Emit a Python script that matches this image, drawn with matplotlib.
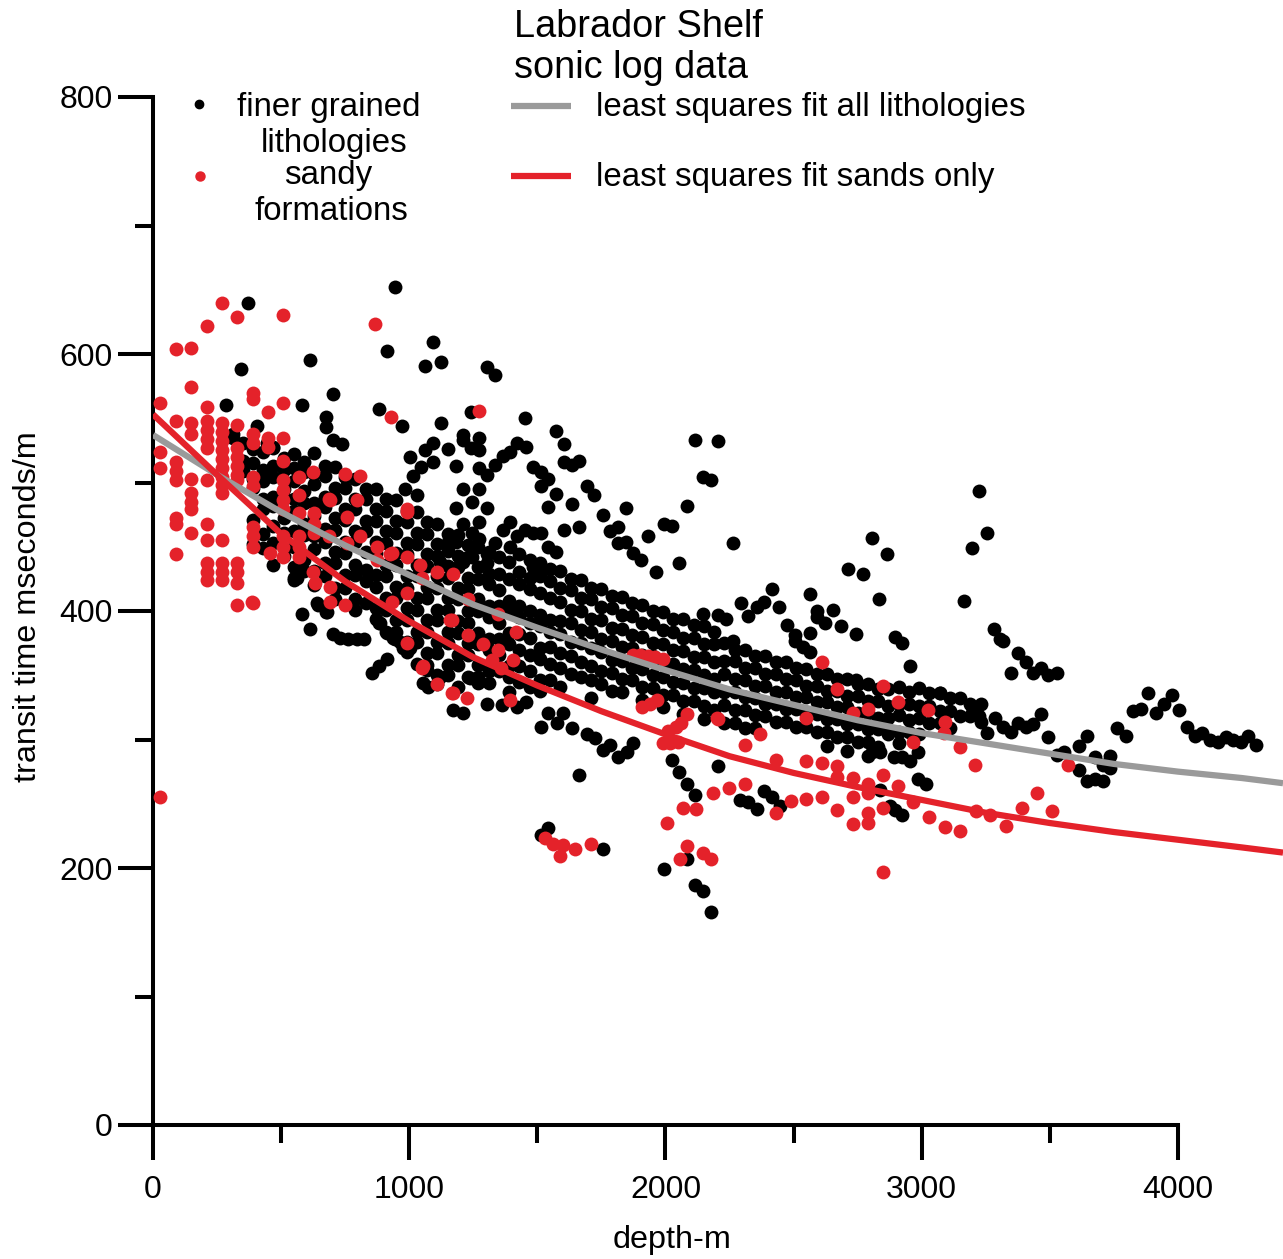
import numpy as np
import matplotlib.pyplot as plt

plt.rcParams['font.family'] = ['Liberation Sans', 'DejaVu Sans']

# least squares fit curves (depth m, transit time)
fit_depth = [0, 250, 500, 750, 1000, 1250, 1500, 1750, 2000, 2250, 2500,
             2750, 3000, 3250, 3500, 3750, 4000, 4250, 4410]
fit_all = [537, 506, 477, 451, 428, 405, 387, 370, 354, 339, 327,
           315, 305, 297, 289, 281, 275, 270, 266]
fit_sand = [553, 506, 460, 423, 392, 364, 342, 322, 304, 287, 274,
            263, 253, 243, 235, 228, 222, 216, 212]

# finer grained lithologies: isolated points (depth, time)
fine_points = [
    (371, 640), (944, 652), (913, 602), (613, 595), (343, 588), (702, 569), (581, 560),
    (285, 560), (882, 557), (675, 551), (675, 543), (972, 544), (406, 544), (312, 538),
    (312, 535), (702, 533), (737, 530), (1003, 520), (445, 531), (468, 528),
    (1093, 609), (1061, 591), (1124, 594), (1303, 590), (1335, 584), (1241, 555),
    (1452, 550), (1124, 546), (1573, 540), (1604, 530), (2115, 533), (1093, 531),
    (1061, 525), (1210, 537), (1210, 533), (1272, 535), (1152, 526), (1241, 527),
    (1272, 525), (1420, 531), (1456, 528), (1393, 524), (1366, 521), (1335, 514),
    (1093, 516), (1182, 513), (1604, 516), (1635, 514), (1662, 517), (1272, 511),
    (1303, 506), (1483, 512), (1514, 508), (1541, 503), (1514, 497), (1573, 491),
    (1694, 497), (1721, 490), (1210, 495), (1272, 495), (1245, 485), (1182, 480),
    (1303, 480), (1541, 481), (1635, 483), (1756, 475), (1846, 480), (2084, 482),
    (1210, 468), (1272, 469), (1245, 461), (1272, 456), (1393, 469), (1366, 463),
    (1335, 453), (1452, 463), (1483, 461), (1514, 461), (1420, 458), (1604, 463),
    (1662, 465), (1783, 462), (1815, 465), (1994, 468), (2025, 466), (1932, 458),
    (1815, 453), (1846, 454), (1393, 450), (1541, 450), (1573, 446), (1873, 445),
    (1904, 440), (2053, 437), (1963, 430), (1152, 454), (1182, 454), (1152, 447),
    (1303, 444), (1303, 437), (1245, 442), (1210, 438), (1120, 438), (1483, 434),
    (1514, 430), (1015, 505), (985, 495), (1030, 490), (1045, 512),
    (2205, 532), (2146, 504), (2177, 502), (2263, 453), (3223, 493), (3254, 461),
    (3196, 449), (2806, 457), (2864, 444), (2712, 433), (2771, 429), (2833, 409),
    (3165, 408), (2415, 417), (2294, 406), (2357, 403), (2384, 407), (2322, 396),
    (2443, 403), (2564, 413), (2591, 400), (2591, 395), (2622, 391), (2653, 401),
    (2685, 388), (2743, 382), (2474, 389), (2505, 381), (2505, 377), (2537, 372),
    (2564, 368), (2564, 383), (2146, 398), (2205, 397), (2236, 394), (2263, 377),
    (2896, 380), (2923, 375), (3282, 386), (3305, 378), (2954, 357), (2743, 346),
    (3071, 336),
    (3318, 377), (3376, 367), (3407, 360), (3348, 352), (3434, 352), (3465, 356),
    (3493, 350), (3528, 352), (3318, 310), (3348, 306), (3376, 313), (3407, 310),
    (3434, 312), (3465, 320), (3493, 302), (3528, 288), (3555, 290), (3614, 295),
    (3645, 303), (3614, 276), (3645, 268), (3676, 269), (3707, 268), (3676, 286),
    (3707, 280), (3735, 287), (3735, 278), (3762, 309), (3797, 303), (3824, 322),
    (3856, 324), (3883, 336), (3914, 321), (3945, 328), (3977, 335), (4004, 323),
    (4035, 310), (4066, 303), (4094, 305), (4125, 300), (4156, 298), (4187, 302),
    (4215, 300), (4246, 298), (4273, 303), (4304, 296),
    (2146, 182), (2177, 166), (2205, 279), (2291, 253), (2322, 251), (2357, 246),
    (2384, 260), (2415, 255), (2447, 248), (2837, 261), (2876, 248), (2896, 245),
    (2923, 241), (2985, 269), (3016, 265), (2985, 290), (2892, 286), (2923, 286),
    (2954, 283), (2806, 290), (2837, 290), (3254, 305), (3196, 325), (3223, 318),
    (3286, 317),
    (1541, 231), (1514, 226), (1756, 215), (1662, 272), (1994, 199), (2115, 187),
    (2084, 207), (1171, 323), (1210, 321), (1303, 328), (1362, 327), (1420, 325),
    (1456, 329), (1514, 310), (1577, 313), (1635, 309), (1541, 321), (1600, 321),
    (1694, 304), (1725, 301), (1756, 292), (1783, 296), (1815, 286), (1850, 290),
    (1873, 297), (2025, 284), (2053, 275), (2084, 265), (2115, 257), (1069, 354),
    (1120, 349), (1054, 344), (1073, 341), (1237, 348), (1268, 344),
    (550, 424), (581, 398), (613, 386), (644, 405), (675, 399), (702, 382),
    (730, 379), (761, 378), (796, 378), (823, 378), (882, 391), (913, 383),
    (944, 378), (976, 371), (1003, 371), (913, 363), (882, 357), (855, 352),
    (562, 426), (640, 406), (679, 399), (886, 391), (937, 379), (964, 376),
]

# finer grained lithologies: the dense band, as depth columns of times
fine_band = [
    (350, [531, 517, 509]),
    (390, [526, 515, 503, 496, 471, 452]),
    (430, [524, 510, 501, 487, 479, 460, 449]),
    (470, [527, 513, 504, 489, 482, 466, 453, 436]),
    (510, [519, 510, 495, 488, 472, 461, 443]),
    (550, [522, 511, 501, 487, 478, 462, 450, 434, 426]),
    (590, [516, 508, 493, 484, 468, 459, 440, 431]),
    (630, [523, 507, 499, 484, 474, 458, 448, 431, 420]),
    (670, [513, 505, 489, 481, 464, 454, 437, 427]),
    (710, [512, 496, 488, 472, 463, 446, 437, 418, 409]),
    (750, [504, 496, 479, 471, 454, 445, 428, 418]),
    (790, [503, 487, 479, 462, 454, 436, 428, 409, 401]),
    (830, [495, 487, 470, 462, 446, 432, 423, 406]),
    (870, [495, 479, 470, 454, 445, 428, 419, 402, 394]),
    (910, [487, 478, 462, 453, 436, 427, 410, 401, 384]),
    (950, [486, 470, 461, 445, 436, 419, 410, 393, 384]),
    (990, [478, 469, 453, 444, 427, 418, 402, 393, 376, 368]),
    (1030, [477, 461, 452, 436, 427, 410, 401, 384, 376, 359]),
    (1070, [469, 460, 444, 435, 419, 410, 393, 384, 367, 358]),
    (1110, [468, 452, 443, 427, 418, 401, 393, 376, 367, 350, 343]),
    (1150, [460, 451, 435, 426, 410, 401, 384, 375, 358, 350]),
    (1190, [459, 443, 434, 418, 409, 392, 383, 366, 358, 341]),
    (1230, [451, 442, 426, 417, 400, 391, 375, 366, 349]),
    (1270, [450, 434, 425, 409, 400, 383, 374, 358, 349]),
    (1310, [446, 429, 421, 404, 395, 378, 370, 353, 344]),
    (1350, [442, 429, 416, 404, 391, 378, 366, 353]),
    (1390, [438, 425, 408, 399, 383, 374, 357, 349, 337]),
    (1430, [444, 430, 421, 404, 395, 382, 370, 357, 345]),
    (1470, [440, 426, 417, 400, 391, 379, 366, 353, 341]),
    (1510, [437, 427, 414, 397, 388, 371, 363, 346, 338]),
    (1550, [433, 423, 410, 393, 384, 372, 359, 346]),
    (1590, [431, 418, 407, 392, 382, 367, 356, 341]),
    (1630, [425, 416, 401, 391, 376, 365, 351]),
    (1670, [424, 410, 400, 385, 375, 360, 349]),
    (1710, [418, 409, 394, 384, 371, 357, 346, 332]),
    (1750, [417, 403, 393, 378, 368, 353, 343]),
    (1790, [412, 402, 387, 377, 362, 352, 338]),
    (1830, [411, 397, 386, 372, 361, 347, 337]),
    (1870, [406, 396, 381, 371, 356, 346]),
    (1910, [405, 391, 380, 366, 355, 341, 331]),
    (1950, [400, 390, 375, 365, 350, 340]),
    (1990, [399, 385, 374, 360, 349, 335, 325]),
    (2030, [394, 384, 370, 359, 345, 335]),
    (2070, [394, 379, 369, 355, 344, 330, 320]),
    (2110, [389, 379, 364, 354, 340, 330]),
    (2150, [388, 374, 364, 350, 340, 326, 316]),
    (2190, [384, 374, 360, 347, 337, 323]),
    (2230, [375, 361, 351, 337, 327, 313]),
    (2270, [370, 361, 347, 337, 323, 313]),
    (2310, [370, 356, 346, 333, 323, 309]),
    (2350, [365, 356, 342, 332, 319, 309]),
    (2390, [365, 351, 342, 328, 318]),
    (2430, [360, 351, 337, 328, 314]),
    (2470, [360, 347, 337, 324, 314]),
    (2510, [356, 346, 333, 324, 310]),
    (2550, [355, 342, 333, 320, 310]),
    (2590, [351, 342, 329, 320, 306]),
    (2630, [351, 338, 329, 316, 306, 295]),
    (2670, [347, 338, 325, 316, 302]),
    (2710, [347, 334, 325, 312, 302, 291]),
    (2750, [343, 334, 321, 312, 298]),
    (2790, [343, 330, 321, 308, 298, 287]),
    (2830, [339, 330, 317, 308, 294]),
    (2870, [339, 326, 317, 304]),
    (2910, [341, 328, 319, 306, 297]),
    (2950, [337, 328, 315, 306]),
    (2990, [340, 326, 317, 304]),
    (3030, [336, 326, 313]),
    (3070, [336, 322, 313]),
    (3110, [332, 322, 309]),
    (3150, [332, 318]),
    (3190, [328, 318]),
    (3230, [328, 314]),
]

# sandy formations (depth, time)
sand_points = [
    (27, 562), (27, 524), (27, 511), (27, 255),
    (90, 604), (90, 548), (90, 516), (90, 509), (90, 502), (90, 472), (90, 468), (90, 444),
    (148, 605), (148, 574), (148, 546), (148, 538), (148, 503), (148, 492), (148, 485),
    (148, 479), (148, 461),
    (210, 622), (210, 559), (210, 548), (210, 541), (210, 534), (210, 527), (210, 502),
    (210, 468), (210, 455), (210, 437), (210, 430), (210, 424),
    (269, 640), (270, 546), (270, 539), (270, 532), (270, 525), (270, 518), (270, 511),
    (270, 504), (270, 498), (270, 492), (270, 455), (270, 437), (270, 430), (270, 424),
    (328, 629), (328, 545), (328, 527), (328, 520), (328, 513), (328, 506), (328, 502),
    (328, 437), (328, 430), (328, 422), (328, 405),
    (390, 570), (390, 565), (390, 538), (390, 531), (390, 504), (390, 497), (390, 465),
    (390, 458), (390, 450), (390, 406), (386, 407),
    (449, 555), (449, 535), (449, 528), (456, 445),
    (507, 630), (507, 562), (507, 535), (507, 517), (507, 502), (507, 494), (507, 486),
    (507, 479), (507, 458), (507, 450), (507, 442),
    (570, 504), (570, 490), (570, 476), (570, 458), (570, 450), (570, 442),
    (624, 508), (628, 476), (628, 468), (628, 461), (624, 430), (632, 422),
    (687, 487), (687, 458), (690, 486), (690, 419), (690, 407),
    (749, 507), (757, 473), (757, 453), (749, 405),
    (808, 505), (808, 458), (796, 486),
    (866, 623), (874, 450), (874, 440),
    (929, 551), (932, 445), (925, 444), (932, 407),
    (991, 479), (991, 442), (991, 477), (991, 414), (991, 375),
    (1042, 436), (1050, 426), (1108, 430), (1171, 429), (1159, 393),
    (1054, 357), (1050, 356), (1108, 343), (1167, 336), (1167, 393), (1171, 336),
    (1225, 332), (1229, 409), (1229, 381), (1288, 374), (1346, 370), (1346, 398),
    (1323, 362), (1359, 356), (1405, 362), (1417, 384), (1393, 331), (1272, 556),
    (1873, 366), (1900, 366), (1932, 365), (1960, 364), (1990, 363),
    (1908, 325), (1940, 328), (1967, 331), (2084, 320), (2010, 307), (2040, 310),
    (2060, 313), (1990, 297), (2049, 298), (2018, 297), (2201, 317),
    (2006, 235), (2068, 247), (2119, 246), (2084, 217), (2057, 207), (2146, 212),
    (2177, 207),
    (1530, 223), (1561, 219), (1600, 218), (1647, 215), (1709, 219), (1588, 209),
    (2611, 360), (2669, 339), (2849, 342), (2907, 329), (2790, 324), (2732, 321),
    (3024, 323), (3091, 314), (2548, 317), (2369, 304), (2310, 296), (2966, 298),
    (3149, 294), (3208, 280), (2205, 316), (3088, 305),
    (2431, 284), (2548, 283), (2611, 282), (2669, 279), (2669, 271), (2732, 270),
    (2790, 265), (2790, 258), (2849, 272), (2907, 264), (2185, 258), (2248, 262),
    (2310, 265), (2490, 252), (2548, 254), (2611, 255), (2732, 255), (2431, 243),
    (2669, 245), (2732, 234), (2790, 235), (2790, 243), (2849, 247), (2966, 251),
    (3028, 240), (3091, 232), (3149, 229), (3212, 244), (3266, 241), (2849, 197),
    (3571, 280), (3450, 258), (3391, 247), (3508, 244), (3329, 233),
]

fine_depth = [d for d, _ in fine_points]
fine_time = [t for _, t in fine_points]
for d, times in fine_band:
    fine_depth += [d] * len(times)
    fine_time += times
sand_depth = [d for d, _ in sand_points]
sand_time = [t for _, t in sand_points]

BLACK = '#000000'
RED = '#e4222a'
GREY = '#9a9a9a'

W, H = 1283, 1259
fig = plt.figure(figsize=(W / 100, H / 100), dpi=100)
ax = fig.add_axes([153 / W, 134 / H, 1130 / W, 1028 / H])

ax.scatter(fine_depth, fine_time, s=100, c=BLACK, linewidths=0, zorder=2)
ax.scatter(sand_depth, sand_time, s=100, c=RED, linewidths=0, zorder=3)
ax.plot(fit_depth, fit_all, color=GREY, lw=4.5, solid_capstyle='butt', zorder=4)
ax.plot(fit_depth, fit_sand, color=RED, lw=4.5, solid_capstyle='butt', zorder=5)

ax.set_xlim(0, 4410)
ax.set_ylim(0, 800)
for side in ('top', 'right'):
    ax.spines[side].set_visible(False)
for side in ('left', 'bottom'):
    ax.spines[side].set_linewidth(2.9)
ax.spines['bottom'].set_bounds(0, 4000)

ax.set_xticks([0, 1000, 2000, 3000, 4000])
ax.set_xticks([500, 1500, 2500, 3500], minor=True)
ax.set_yticks([0, 200, 400, 600, 800])
ax.set_yticks([100, 300, 500, 700], minor=True)
ax.tick_params(which='major', length=25, width=2.9, labelsize=23)
ax.tick_params(which='minor', length=13, width=2.9)
ax.tick_params(axis='x', which='major', pad=11)
ax.tick_params(axis='y', which='major', pad=4)

# overlay in pixel coordinates for title, legend and axis titles
ov = fig.add_axes([0, 0, 1, 1], facecolor='none')
ov.set_xlim(0, W)
ov.set_ylim(H, 0)
ov.axis('off')

ov.text(514, 37, 'Labrador Shelf', fontsize=27.3, ha='left', va='baseline')
ov.text(514, 78, 'sonic log data', fontsize=27.3, ha='left', va='baseline')

ov.plot([199], [104], 'o', color=BLACK, ms=6)
ov.plot([200], [176], 'o', color=RED, ms=6.5)
ov.text(329, 116, 'finer grained', fontsize=23.8, ha='center', va='baseline')
ov.text(334, 152, 'lithologies', fontsize=23.8, ha='center', va='baseline')
ov.text(328, 184, 'sandy', fontsize=23.8, ha='center', va='baseline')
ov.text(331, 220, 'formations', fontsize=23.8, ha='center', va='baseline')

ov.plot([511, 571], [106, 106], color=GREY, lw=4.5, solid_capstyle='butt')
ov.plot([511, 571], [176, 176], color=RED, lw=4.5, solid_capstyle='butt')
ov.text(596, 116, 'least squares fit all lithologies', fontsize=23.8, ha='left',
        va='baseline')
ov.text(596, 186, 'least squares fit sands only', fontsize=23.8, ha='left',
        va='baseline')

ov.text(672, 1240, 'depth-m', fontsize=23.3, ha='center', va='center')
ov.text(28, 607, 'transit time mseconds/m', fontsize=23.3, ha='center', va='center',
        rotation=90)

fig.savefig('out.png', dpi=100)
